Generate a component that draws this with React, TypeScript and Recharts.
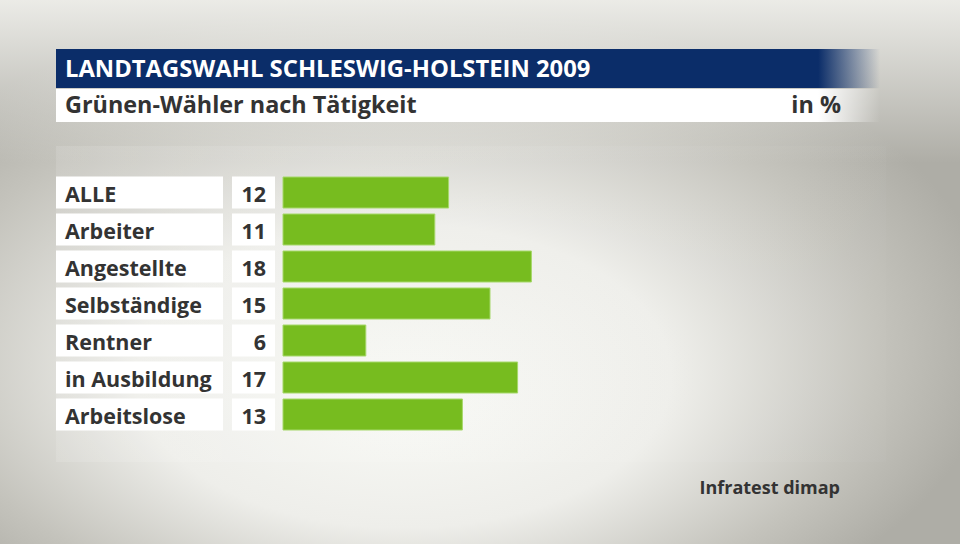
import { BarChart, Bar, XAxis, YAxis } from 'recharts';

const categories = ['ALLE', 'Arbeiter', 'Angestellte', 'Selbständige', 'Rentner', 'in Ausbildung', 'Arbeitslose'];
const values = [12, 11, 18, 15, 6, 17, 13];

const title = 'LANDTAGSWAHL SCHLESWIG-HOLSTEIN 2009';
const subtitle = 'Grünen-Wähler nach Tätigkeit';
const unit = 'in %';
const source = 'Infratest dimap';

const data = categories.map((name, i) => ({ name, value: values[i] }));

const FONT = '"Open Sans", Lato, sans-serif';
const GREEN = '#77bc1f';
const BLUE = '#0b2d69';
const TEXT = '#333333';

// label box + value box drawn as the y axis tick
function RowTick(props: any) {
    const { y, payload } = props;
    const v = values[payload.index];
    return (
        <g>
            <rect x={56} y={y - 16} width={167} height={32} fill="#ffffff" />
            <rect x={232} y={y - 16} width={43} height={32} fill="#ffffff" />
            <text x={65} y={y + 9} fill={TEXT} fontSize={21.5} fontWeight={700} fontFamily={FONT}>
                {payload.value}
            </text>
            <text x={266} y={y + 9} fill={TEXT} fontSize={21.5} fontWeight={700} fontFamily={FONT} textAnchor="end">
                {v}
            </text>
        </g>
    );
}

export default function App() {
    return (
        <div style={{ position: 'absolute', left: 0, top: 0, width: 960, height: 544, overflow: 'hidden' }}>
            {/* background, panel and header */}
            <svg width={960} height={544} style={{ position: 'absolute', left: 0, top: 0 }}>
                <defs>
                    <radialGradient id="bg" cx="0.42" cy="0.62" r="0.62" fx="0.42" fy="0.75">
                        <stop offset="0" stopColor="#f8f9f5" />
                        <stop offset="0.45" stopColor="#eeeeea" />
                        <stop offset="0.8" stopColor="#c4c3bc" />
                        <stop offset="1" stopColor="#aeada6" />
                    </radialGradient>
                    <linearGradient id="topglow" x1="0" y1="0" x2="0" y2="1">
                        <stop offset="0" stopColor="#f2f2ee" stopOpacity="0.9" />
                        <stop offset="0.3" stopColor="#f2f2ee" stopOpacity="0" />
                    </linearGradient>
                    <linearGradient id="blueBar" x1="0" y1="0" x2="1" y2="0">
                        <stop offset="0" stopColor={BLUE} />
                        <stop offset="0.925" stopColor={BLUE} />
                        <stop offset="1" stopColor={BLUE} stopOpacity="0" />
                    </linearGradient>
                    <linearGradient id="whiteBar" x1="0" y1="0" x2="1" y2="0">
                        <stop offset="0" stopColor="#ffffff" />
                        <stop offset="0.925" stopColor="#ffffff" />
                        <stop offset="1" stopColor="#ffffff" stopOpacity="0" />
                    </linearGradient>
                    <linearGradient id="panel" x1="0" y1="0" x2="1" y2="0">
                        <stop offset="0" stopColor="#ffffff" stopOpacity="0.12" />
                        <stop offset="1" stopColor="#ffffff" stopOpacity="0.02" />
                    </linearGradient>
                </defs>
                <rect x={0} y={0} width={960} height={544} fill="url(#bg)" />
                <rect x={0} y={0} width={960} height={544} fill="url(#topglow)" />
                <rect x={56} y={146} width={830} height={316} fill="url(#panel)" />
                <rect x={56} y={49} width={824} height={39} fill="url(#blueBar)" />
                <rect x={56} y={89} width={824} height={33} fill="url(#whiteBar)" />
                <text x={65} y={77} fill="#ffffff" fontSize={23.8} fontWeight={700} fontFamily={FONT}>
                    {title}
                </text>
                <text x={65} y={113} fill={TEXT} fontSize={23.4} fontWeight={700} fontFamily={FONT}>
                    {subtitle}
                </text>
                <text x={841} y={113} fill={TEXT} fontSize={23.4} fontWeight={700} fontFamily={FONT} textAnchor="end">
                    {unit}
                </text>
                <text x={840} y={494} fill={TEXT} fontSize={18} fontWeight={700} fontFamily={FONT} textAnchor="end">
                    {source}
                </text>
            </svg>
            <div style={{ position: 'absolute', left: 0, top: 0 }}>
                <BarChart
                    width={960}
                    height={544}
                    data={data}
                    layout="vertical"
                    margin={{ top: 174, right: 125, bottom: 111, left: 0 }}
                >
                    <XAxis type="number" domain={[0, 40]} hide />
                    <YAxis
                        type="category"
                        dataKey="name"
                        width={283}
                        axisLine={false}
                        tickLine={false}
                        interval={0}
                        tick={<RowTick />}
                    />
                    <Bar
                        dataKey="value"
                        fill={GREEN}
                        stroke="#a6d86a"
                        strokeWidth={1}
                        barSize={31}
                        isAnimationActive={false}
                    />
                </BarChart>
            </div>
        </div>
    );
}
